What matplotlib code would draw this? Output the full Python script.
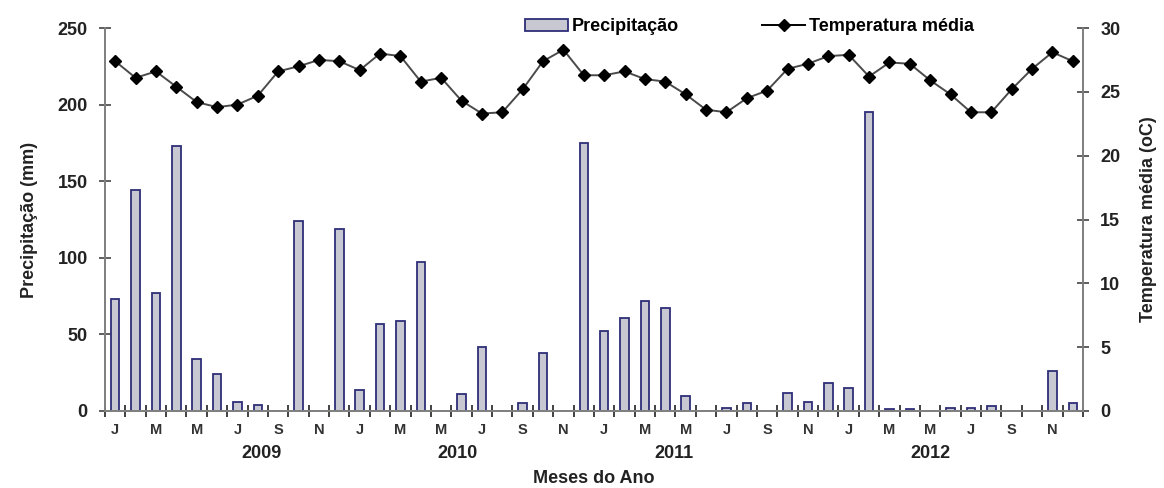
import matplotlib.pyplot as plt
from matplotlib.patches import Patch
from matplotlib.lines import Line2D
from matplotlib.ticker import FixedLocator

plt.rcParams['font.family'] = ['Liberation Sans', 'DejaVu Sans']

# %% dados
month_labels = ['J', 'M', 'M', 'J', 'S', 'N'] * 4
years = ['2009', '2010', '2011', '2012']

precip = [73, 144, 77, 173, 34, 24, 6, 4, 0, 124, 0, 119,
          14, 57, 59, 97, 0, 11, 42, 0, 5, 38, 0, 175,
          52, 61, 72, 67, 10, 0, 2, 5, 0, 12, 6, 18,
          15, 195, 1, 1, 0, 2, 2, 3, 0, 0, 26, 5]

temp = [27.4, 26.1, 26.6, 25.4, 24.2, 23.8, 24.0, 24.7, 26.6, 27.0, 27.5, 27.4,
        26.7, 28.0, 27.8, 25.8, 26.1, 24.3, 23.3, 23.4, 25.2, 27.4, 28.3, 26.3,
        26.3, 26.6, 26.0, 25.8, 24.8, 23.6, 23.4, 24.5, 25.1, 26.8, 27.2, 27.8,
        27.9, 26.2, 27.3, 27.2, 25.9, 24.8, 23.4, 23.4, 25.2, 26.8, 28.1, 27.4]

x = list(range(len(precip)))

# %% figura
fig = plt.figure(figsize=(11.64, 4.88), dpi=100)
ax = fig.add_axes([0.0902, 0.1578, 0.8402, 0.7848])
ax2 = ax.twinx()

bar_face = '#c8c8d2'
bar_edge = '#2e2e78'
axis_col = '#808080'

ax.bar(x, precip, width=0.42, color=bar_face, edgecolor=bar_edge, linewidth=1.3, zorder=2)
ax2.plot(x, temp, color='#4a4a4a', linewidth=1.4, marker='D', markersize=6,
         markerfacecolor='black', markeredgecolor='black', zorder=3)

ax.set_xlim(-0.5, len(precip) - 0.5)
ax.set_ylim(0, 250)
ax2.set_ylim(0, 30)
ax.set_yticks([0, 50, 100, 150, 200, 250])
ax2.set_yticks([0, 5, 10, 15, 20, 25, 30])

# eixo x: rótulos a cada 2 meses, marcas entre meses
ax.set_xticks(x[::2])
ax.set_xticklabels(month_labels, fontsize=10.5, fontweight='bold', color='#333333')
ax.xaxis.set_minor_locator(FixedLocator([i - 0.5 for i in range(len(precip) + 1)]))
ax.tick_params(axis='x', which='major', length=0, pad=9)
ax.tick_params(axis='x', which='minor', direction='inout', length=8, width=1.2, color='#222222')

for a in (ax, ax2):
    a.spines['top'].set_visible(False)
    for s in ('left', 'right', 'bottom'):
        a.spines[s].set_color(axis_col)
        a.spines[s].set_linewidth(1.3)

ax.tick_params(axis='y', direction='inout', length=9, width=1.2, color='#444444',
               labelsize=13, pad=8)
ax2.tick_params(axis='y', direction='inout', length=9, width=1.2, color='#444444',
                labelsize=13, pad=8)
for lbl in ax.get_yticklabels() + ax2.get_yticklabels():
    lbl.set_fontweight('bold')
    lbl.set_color('#222222')

# anos
year_pos = [7.2, 16.8, 27.4, 40.0]
for xp, yr in zip(year_pos, years):
    ax.text(xp, -0.11, yr, transform=ax.get_xaxis_transform(), ha='center', va='center',
            fontsize=13, fontweight='bold', color='#222222')

ax.text(0.5, -0.175, 'Meses do Ano', transform=ax.transAxes, ha='center', va='center',
        fontsize=13, fontweight='bold', color='#222222')
ax.set_ylabel('Precipitação (mm)', fontsize=13, fontweight='bold', color='#222222', labelpad=14)
ax2.set_ylabel('Temperatura média (oC)', fontsize=13, fontweight='bold', color='#222222', labelpad=14)

# legenda
handles = [Patch(facecolor=bar_face, edgecolor=bar_edge, linewidth=1.3),
           Line2D([], [], color='black', linewidth=1.4, marker='D', markersize=6)]
fig.legend(handles, ['Precipitação', 'Temperatura média'], loc='center left',
           bbox_to_anchor=(0.437, 0.945), ncol=2, frameon=False, handlelength=2.4,
           handleheight=0.6, columnspacing=4.6, handletextpad=0.2,
           prop={'weight': 'bold', 'size': 13})

fig.savefig('out.png', dpi=100)
